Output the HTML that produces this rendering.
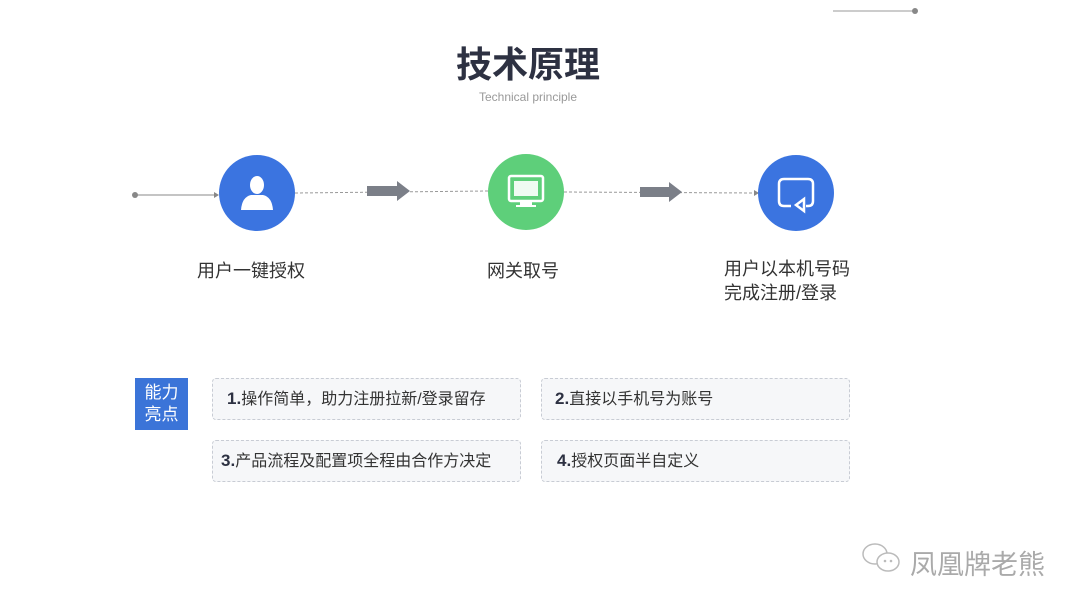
<!DOCTYPE html>
<html><head><meta charset="utf-8"><style>
body{margin:0;width:1080px;height:608px;background:#fff;position:relative;overflow:hidden;font-family:"Liberation Sans","Noto Sans CJK SC",sans-serif}
.t{position:absolute;white-space:nowrap}
.box{position:absolute;width:309px;height:42px;border:1px dashed #c8ccd4;border-radius:4px;background:#f6f7f9;font-size:16px;color:#333;line-height:40px;box-sizing:border-box}
.box b{font-size:17px;color:#2d3142}
</style></head><body>
<svg width="1080" height="608" style="position:absolute;left:0;top:0">
<line x1="833" y1="11" x2="913" y2="11" stroke="#999" stroke-width="1"/>
<circle cx="915" cy="11" r="3" fill="#888"/>
<circle cx="135" cy="195" r="3" fill="#888"/>
<line x1="135" y1="195" x2="214" y2="195" stroke="#888" stroke-width="1"/>
<polygon points="214,192 219,195 214,198" fill="#888"/>
<line x1="295" y1="193" x2="488" y2="191" stroke="#999" stroke-dasharray="3,2"/>
<line x1="564" y1="192" x2="754" y2="193" stroke="#999" stroke-dasharray="3,2"/>
<polygon points="754,190 759,193 754,196" fill="#888"/>
<polygon points="367,186 397,186 397,181 410,191 397,201 397,196 367,196" fill="#7b7f88"/>
<polygon points="640,187 669,187 669,182 682,192 669,202 669,197 640,197" fill="#7b7f88"/>
<circle cx="257" cy="193" r="38" fill="#3b74e0"/>
<ellipse cx="257" cy="185" rx="7" ry="9" fill="#fff"/>
<path d="M241 210 Q242 197 251 195 L263 195 Q272 197 273 210 Z" fill="#fff"/>
<circle cx="526" cy="192" r="38" fill="#5ecf7a"/>
<rect x="509" y="176" width="34" height="25" rx="2" fill="none" stroke="#fff" stroke-width="2.5"/>
<rect x="514" y="181" width="24" height="15" fill="#fff" opacity=".9"/>
<rect x="520" y="202" width="12" height="3" fill="#fff"/>
<rect x="516" y="205" width="20" height="2" fill="#fff"/>
<circle cx="796" cy="193" r="38" fill="#3b74e0"/>
<path d="M791 206 L784 206 Q779 206 779 201 L779 184 Q779 179 784 179 L808 179 Q813 179 813 184 L813 201 Q813 206 808 206 L806 206" fill="none" stroke="#fff" stroke-width="2.5"/>
<polygon points="796,205 804,199 804,211" fill="none" stroke="#fff" stroke-width="2.5"/>
</svg>
<div class="t" style="left:0;width:1056px;text-align:center;top:36px;font-size:36px;font-weight:bold;color:#2d3142">技术原理</div>
<div class="t" style="left:0;width:1056px;text-align:center;top:90px;font-size:12px;color:#999">Technical principle</div>
<div class="t" style="left:197px;top:257px;font-size:18px;color:#333">用户一键授权</div>
<div class="t" style="left:487px;top:257px;font-size:18px;color:#333">网关取号</div>
<div class="t" style="left:724px;top:257px;font-size:18px;color:#333;line-height:24px">用户以本机号码<br>完成注册/登录</div>
<div class="t" style="left:135px;top:378px;width:53px;height:52px;background:#3b74d8;color:#fff;font-size:17px;line-height:22px;text-align:center;padding-top:4px;box-sizing:border-box">能力<br>亮点</div>
<div class="box" style="left:212px;top:378px;padding-left:14px"><b>1.</b>操作简单，助力注册拉新/登录留存</div>
<div class="box" style="left:541px;top:378px;padding-left:13px"><b>2.</b>直接以手机号为账号</div>
<div class="box" style="left:212px;top:440px;padding-left:8px"><b>3.</b>产品流程及配置项全程由合作方决定</div>
<div class="box" style="left:541px;top:440px;padding-left:15px"><b>4.</b>授权页面半自定义</div>
<svg width="50" height="40" style="position:absolute;left:860px;top:540px">
<ellipse cx="15" cy="14" rx="12" ry="10" fill="none" stroke="#bbb" stroke-width="1.5"/>
<ellipse cx="28" cy="22" rx="11" ry="9" fill="#fff" stroke="#bbb" stroke-width="1.5"/>
<circle cx="25" cy="21" r="1.3" fill="#bbb"/><circle cx="31" cy="21" r="1.3" fill="#bbb"/>
</svg>
<div class="t" style="left:910px;top:543px;font-size:27px;color:#aaa">凤凰牌老熊</div>
</body></html>
